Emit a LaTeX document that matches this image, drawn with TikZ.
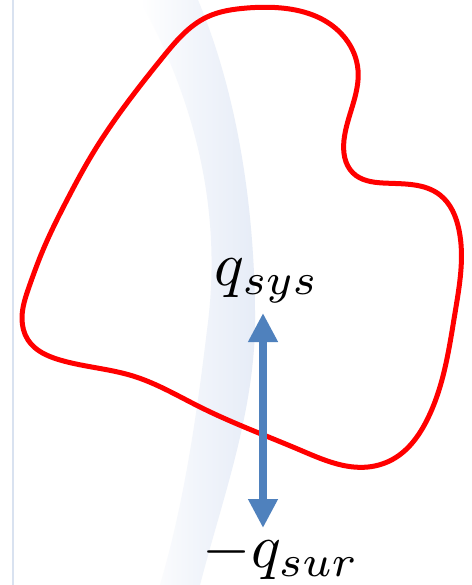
\documentclass[tikz,border=0pt]{standalone}
\usetikzlibrary{arrows.meta,hobby}
\definecolor{sysred}{HTML}{FF0000}
\definecolor{arrowblue}{HTML}{4F81BD}
\definecolor{bandblue}{HTML}{E6ECF7}
\definecolor{edgeblue}{HTML}{D9E2F0}
\tikzset{
  boundary/.style={draw=sysred, line width=5pt, line join=round},
  heatarrow/.style={draw=arrowblue, line width=8.5pt, {Triangle[width=28pt,length=29pt]}-{Triangle[width=28pt,length=29pt]}},
  qlabel/.style={inner sep=0pt, anchor=base}
}
\newcommand{\bigq}[1]{\scalebox{6.2}{$#1$}}
\begin{document}
\begin{tikzpicture}[x=1pt,y=-1pt]
\useasboundingbox (0,0) rectangle (471,585);
\fill[white] (0,0) rectangle (471,585);
% faint background band
\shade[left color=white, right color=bandblue, middle color=bandblue!55] (140,0) .. controls (200,110) and (222,220) .. (207,330)
  .. controls (195,430) and (182,510) .. (160,585)
  -- (200,585) .. controls (222,500) and (252,420) .. (255,330)
  .. controls (256,220) and (240,100) .. (198,0) -- cycle;
\draw[edgeblue, line width=2pt] (13,0) -- (13,585);
% system boundary
\draw[boundary, use Hobby shortcut, closed=true]
  (247,8) .. (345,38) .. (358,70) .. (344,140) .. (353,173) .. (383,183)
  .. (440,195) .. (459,230) .. (455,313) .. (427,420) .. (395,458) .. (368,467)
  .. (300,450) .. (200,407) .. (133,376) .. (60,360) .. (28,340) .. (22,318)
  .. (29,287) .. (43,250) .. (67,200) .. (93,153) .. (127,103) .. (163,57) .. (207,17);
% labels
\node[qlabel] (sys) at (267,285) {\bigq{q_{sys}}};
\node[qlabel] (sur) at (281,567) {\bigq{-q_{sur}}};
\coordinate (top) at (263,313);
\coordinate (bot) at (263,528);
\draw[heatarrow] (top) -- (bot);
\end{tikzpicture}
\end{document}
